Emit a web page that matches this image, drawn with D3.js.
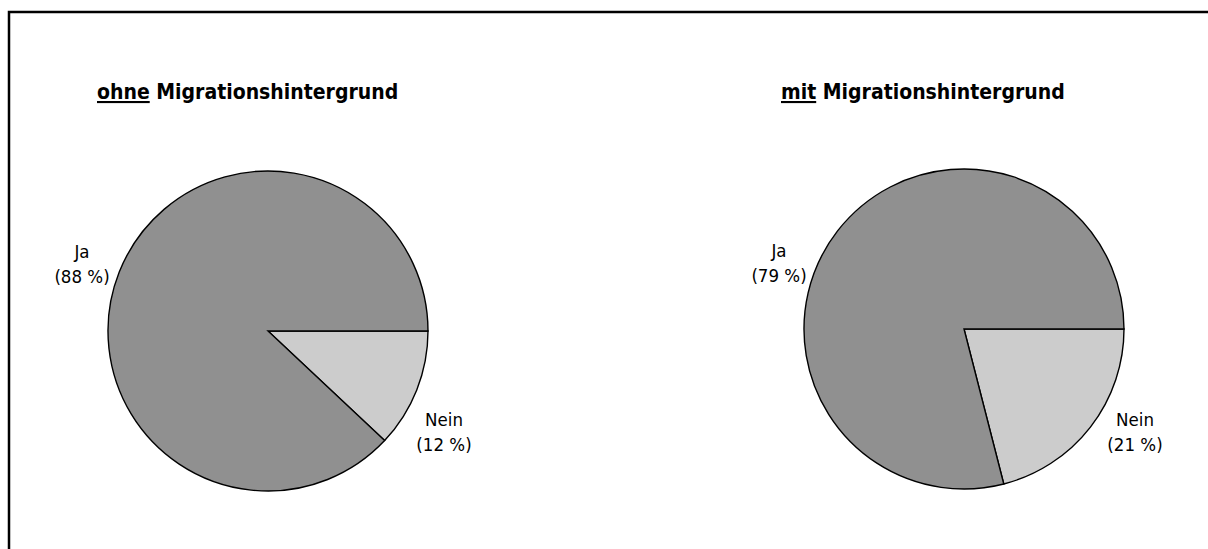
<!DOCTYPE html>
<html>
<head>
<meta charset="utf-8">
<script src="https://cdn.jsdelivr.net/npm/d3@7"></script>
<style>
  html, body { margin: 0; padding: 0; background: #fff; }
  svg { display: block; }
  text { font-family: "DejaVu Sans Condensed", "DejaVu Sans", sans-serif; font-stretch: condensed; fill: #000; }
</style>
</head>
<body>
<svg id="chart" width="1208" height="549"></svg>
<script>
// Anteile (in %) je Gruppe
const groups = ["ohne", "mit"];
const groupTitles = ["Migrationshintergrund", "Migrationshintergrund"];
const categories = ["Nein", "Ja"];
const ohneValues = [12, 88];
const mitValues = [21, 79];

const colors = { "Nein": "#cccccc", "Ja": "#909090" };

const svg = d3.select("#chart");

// Rahmen (rechts und unten abgeschnitten)
svg.append("path")
  .attr("d", "M9,560 L9,12 L1220,12")
  .attr("fill", "none")
  .attr("stroke", "#000")
  .attr("stroke-width", 2.5);

const radius = 160;
const pies = [
  { key: groups[0], title: groupTitles[0], values: ohneValues, cx: 268, cy: 331, titleX: 97, titleY: 99,
    labels: { "Ja": [-186, -73], "Nein": [176, 95] } },
  { key: groups[1], title: groupTitles[1], values: mitValues, cx: 964, cy: 329, titleX: 781, titleY: 99,
    labels: { "Ja": [-185, -72], "Nein": [171, 97] } }
];

// Beginn bei 3 Uhr, im Uhrzeigersinn
const pie = d3.pie().sort(null).value(d => d.value)
  .startAngle(Math.PI / 2).endAngle(Math.PI / 2 + 2 * Math.PI);
const arc = d3.arc().innerRadius(0).outerRadius(radius);

pies.forEach(p => {
  const data = categories.map((c, i) => ({ cat: c, value: p.values[i] }));
  const g = svg.append("g").attr("transform", `translate(${p.cx},${p.cy})`);

  g.selectAll("path.slice")
    .data(pie(data))
    .join("path")
    .attr("class", "slice")
    .attr("d", arc)
    .attr("fill", d => colors[d.data.cat])
    .attr("stroke", "#000")
    .attr("stroke-width", 1.4)
    .attr("stroke-linejoin", "miter");

  // Beschriftungen
  data.forEach(d => {
    const [lx, ly] = p.labels[d.cat];
    const t = g.append("text")
      .attr("text-anchor", "middle")
      .attr("font-size", 18.5);
    t.append("tspan").attr("x", lx).attr("y", ly).text(d.cat);
    t.append("tspan").attr("x", lx).attr("y", ly + 25).text(`(${d.value} %)`);
  });

  // Titel mit unterstrichenem Gruppennamen
  const title = svg.append("text")
    .attr("x", p.titleX)
    .attr("y", p.titleY)
    .attr("font-size", 21)
    .attr("font-weight", "bold");
  title.append("tspan").attr("text-decoration", "underline").style("text-decoration", "underline").text(p.key);
  title.append("tspan").text(" " + p.title);
});
</script>
</body>
</html>
